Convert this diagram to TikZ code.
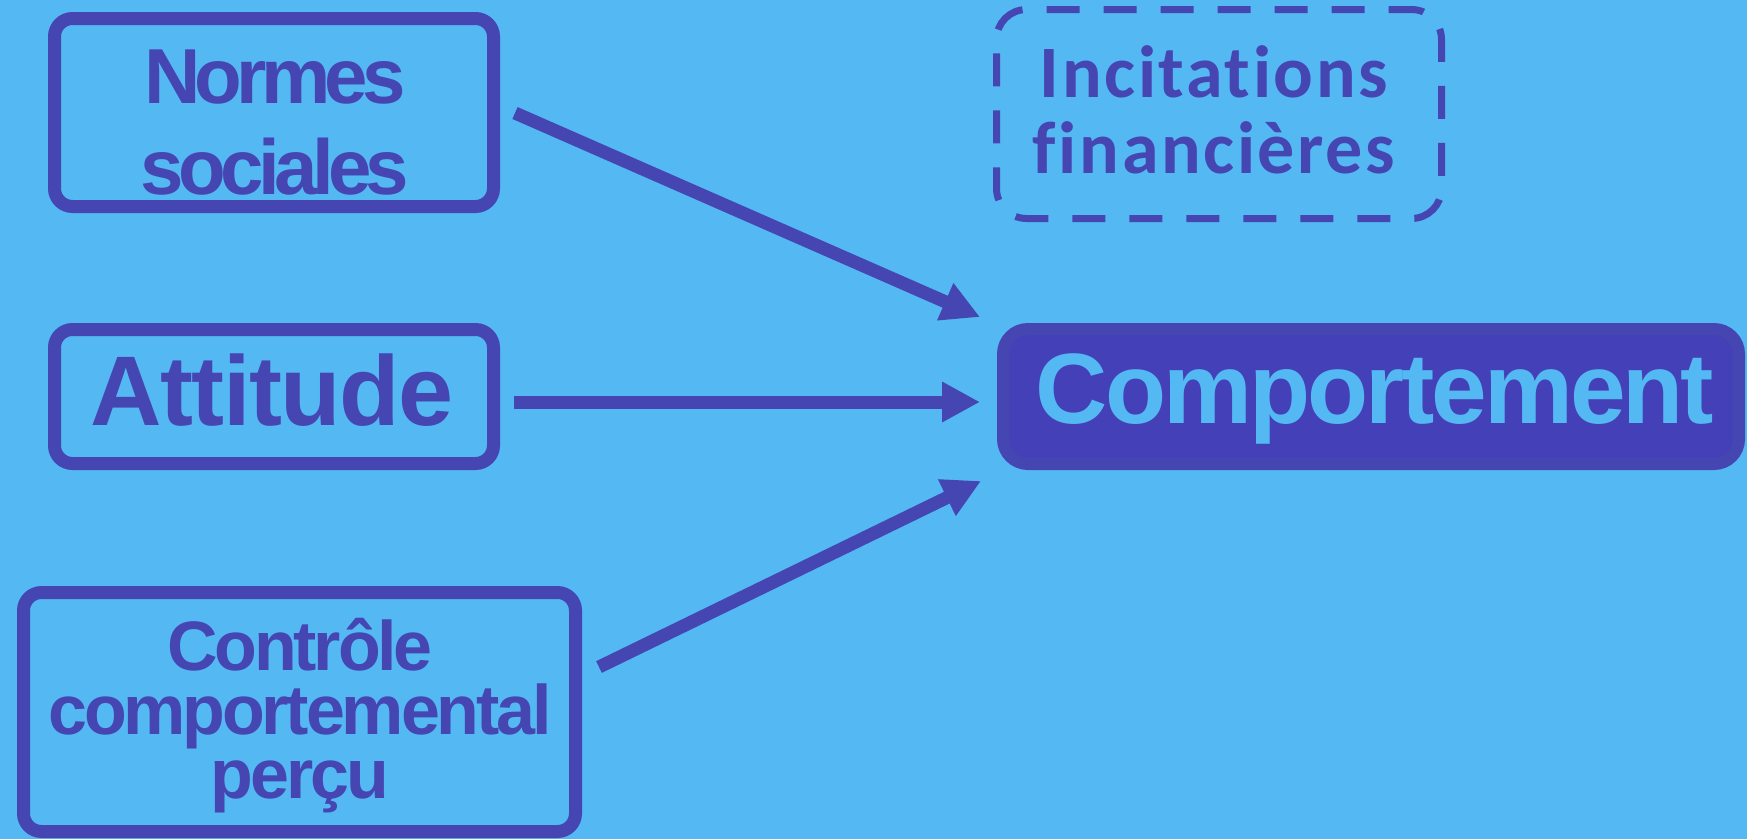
\documentclass[tikz,border=0pt]{standalone}
\usepackage{fontspec}
\usetikzlibrary{arrows.meta}
\newfontfamily\fNormes{Liberation Sans}[LetterSpace=-7.3]
\newfontfamily\fAtt{Liberation Sans}[LetterSpace=-1.5]
\newfontfamily\fCtrl{Liberation Sans}[LetterSpace=-4.5]
\newfontfamily\fComp{Liberation Sans}[LetterSpace=-3]
\newfontfamily\fInc{Carlito}[LetterSpace=3.5, Ligatures={NoCommon,NoRare}, RawFeature=-liga]
\definecolor{bgblue}{RGB}{84,184,243}
\definecolor{vio}{RGB}{70,70,178}
\definecolor{compfill}{RGB}{68,64,184}
\begin{document}
\begin{tikzpicture}[x=1pt,y=-1pt,
  box/.style={draw=vio, line width=13pt, rounded corners=18pt, outer sep=0pt, inner sep=0pt},
  lbl/.style={text=vio, inner sep=0pt, anchor=base, align=center},
  arr/.style={draw=vio, line width=13pt, -{Triangle[length=38pt,width=38pt]}}]
\fill[bgblue] (0,0) rectangle (1747,839);
\useasboundingbox (0,0) rectangle (1747,839);
% boxes
\node[box, minimum width=439pt, minimum height=188pt] (normes) at (274,112.5) {};
\node[box, minimum width=439pt, minimum height=134pt] (attitude) at (274,396.5) {};
\node[box, minimum width=552pt, minimum height=239pt] (controle) at (299.5,712) {};
\node[draw=vio, line width=7pt, rounded corners=30pt, dash pattern=on 33pt off 24pt, dash phase=10pt,
      outer sep=0pt, inner sep=0pt, minimum width=445pt, minimum height=209pt] (incit) at (1219,114) {};
\node[draw=vio, fill=compfill, line width=12pt, rounded corners=25pt, outer sep=0pt, inner sep=0pt,
      minimum width=736pt, minimum height=135pt] (comp) at (1371,396.5) {};
% texts (base anchor = baseline of the last line)
\node[lbl, font={\fNormes\bfseries\fontsize{78}{91}\selectfont}] (normesT) at (275,194) {Normes\\sociales};
\node[lbl, font={\fAtt\bfseries\fontsize{99}{110}\selectfont}] (attitudeT) at (272,425) {Attitude};
\node[lbl, font={\fCtrl\bfseries\fontsize{70}{64}\selectfont}] (controleT) at (300,798) {Contrôle\\comportemental\\perçu};
\node[lbl, font={\fInc\bfseries\fontsize{74}{76}\selectfont}] (incitT) at (1214,173) {Incitations\\financières};
\node[lbl, text=bgblue, font={\fComp\bfseries\fontsize{100}{110}\selectfont}] (compT) at (1375,423) {Comportement};
% arrows
\draw[arr] ([shift={(21.5,0.5)}]normes.east) -- ([shift={(-23,-12)}]comp.north west);
\draw[arr] ([shift={(20.5,5.5)}]attitude.east) -- ([shift={(-23,5.5)}]comp.west);
\draw[arr] ([shift={(23.5,-45)}]controle.east) -- ([shift={(-22,17)}]comp.south west);
\end{tikzpicture}
\end{document}
